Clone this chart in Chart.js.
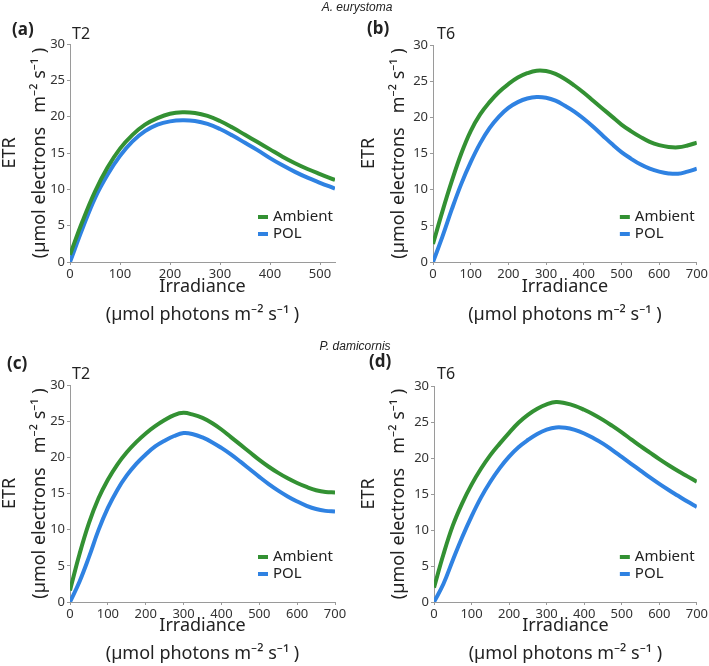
<!DOCTYPE html>
<html>
<head>
<meta charset="utf-8">
<script src="https://cdn.jsdelivr.net/npm/chart.js@4/dist/chart.umd.min.js"></script>
<style>
  body { margin: 0; background: #fff; font-family: "Noto Sans", sans-serif; color: #222; }
  #wrap { position: relative; width: 709px; height: 666px; overflow: hidden; }
  canvas { position: absolute; }
  .lbl { position: absolute; line-height: 20px; height: 20px; white-space: nowrap; }
  .tag { font-weight: bold; font-size: 17px; }
  .time { font-size: 16px; }
  .species { font-family: "Liberation Sans", sans-serif; font-style: italic; font-size: 12px; transform: translateX(-50%); }
</style>
</head>
<body>
<div id="wrap">
  <canvas id="chartA" width="354" height="333" style="left:0;top:0"></canvas>
  <canvas id="chartB" width="355" height="333" style="left:354px;top:0"></canvas>
  <canvas id="chartC" width="354" height="333" style="left:0;top:333px"></canvas>
  <canvas id="chartD" width="355" height="333" style="left:354px;top:333px"></canvas>

  <div class="lbl species" style="left:357px;top:-3px">A. eurystoma</div>
  <div class="lbl species" style="left:355px;top:336px">P. damicornis</div>
  <div class="lbl tag" style="left:12px;top:19px">(a)</div>
  <div class="lbl time" style="left:72px;top:23px">T2</div>
  <div class="lbl tag" style="left:367px;top:18px">(b)</div>
  <div class="lbl time" style="left:437px;top:23px">T6</div>
  <div class="lbl tag" style="left:7px;top:353px">(c)</div>
  <div class="lbl time" style="left:72px;top:363px">T2</div>
  <div class="lbl tag" style="left:369px;top:351px">(d)</div>
  <div class="lbl time" style="left:437px;top:363px">T6</div>
</div>
<script>
// irradiance steps shared by the 0-700 panels
const irr700 = [0, 25, 50, 75, 100, 125, 150, 175, 200, 225, 250, 275, 300, 325, 350, 375, 400,
                425, 450, 475, 500, 525, 550, 575, 600, 625, 650, 675, 700];

// Panel (a) A. eurystoma, T2
const irrA = [0, 25, 50, 75, 100, 125, 150, 175, 200, 225, 250, 275, 300, 325, 350, 375, 400, 425, 450, 475, 500, 530];
const ambA = [1.0, 5.6, 9.7, 13.0, 15.6, 17.5, 18.9, 19.8, 20.4, 20.6, 20.5, 20.1, 19.4, 18.5, 17.5, 16.5, 15.5, 14.5, 13.6, 12.8, 12.1, 11.3];
const polA = [0, 4.6, 8.8, 12.0, 14.6, 16.6, 18.0, 18.9, 19.35, 19.5, 19.4, 19.0, 18.3, 17.4, 16.4, 15.4, 14.3, 13.3, 12.4, 11.6, 10.9, 10.1];

// Panel (b) A. eurystoma, T6
const ambB = [2.5, 7.0, 11.2, 15.0, 18.1, 20.4, 22.1, 23.5, 24.6, 25.5, 26.1, 26.45, 26.4, 26.0, 25.3, 24.4, 23.4,
              22.3, 21.2, 20.1, 19.0, 18.1, 17.3, 16.6, 16.15, 15.9, 15.85, 16.1, 16.5];
const polB = [0, 3.5, 7.3, 10.8, 13.8, 16.4, 18.5, 20.1, 21.3, 22.1, 22.6, 22.8, 22.7, 22.3, 21.6, 20.8, 19.8,
              18.7, 17.5, 16.3, 15.2, 14.3, 13.5, 12.9, 12.5, 12.25, 12.2, 12.5, 12.9];

// Panel (c) P. damicornis, T2
const ambC = [1.6, 6.6, 10.9, 14.3, 16.9, 19.0, 20.7, 22.1, 23.3, 24.3, 25.15, 25.85, 26.15, 25.9, 25.45, 24.75, 23.85,
              22.8, 21.75, 20.7, 19.65, 18.7, 17.85, 17.1, 16.45, 15.9, 15.45, 15.2, 15.15];
const polC = [0, 2.8, 6.2, 9.9, 13.0, 15.5, 17.5, 19.1, 20.4, 21.5, 22.3, 22.95, 23.35, 23.2, 22.75, 22.1, 21.3,
              20.4, 19.4, 18.35, 17.3, 16.3, 15.4, 14.6, 13.9, 13.3, 12.85, 12.6, 12.5];

// Panel (d) P. damicornis, T6
const ambD = [2.0, 6.6, 10.6, 13.7, 16.3, 18.5, 20.4, 22.0, 23.5, 24.9, 26.0, 26.85, 27.45, 27.78, 27.6, 27.25, 26.7,
              26.05, 25.3, 24.45, 23.55, 22.6, 21.65, 20.75, 19.85, 19.0, 18.2, 17.45, 16.7];
const polD = [0, 2.5, 5.8, 9.0, 11.9, 14.5, 16.7, 18.6, 20.2, 21.5, 22.5, 23.35, 23.95, 24.25, 24.2, 23.9, 23.4,
              22.75, 22.0, 21.1, 20.15, 19.2, 18.25, 17.3, 16.4, 15.55, 14.75, 13.95, 13.2];

const seriesLabels = ['Ambient', 'POL'];
const seriesColors = ['#339133', '#2f82e2'];
const yTitle = ['ETR', '(\u00b5mol electrons   m\u207b\u00b2 s\u207b\u00b9 )'];
const xTitle = ['Irradiance', '(\u00b5mol photons m\u207b\u00b2 s\u207b\u00b9 )'];

Chart.defaults.font.family = "'Noto Sans', sans-serif";

// legend drawn inside the plot, lower right
const insideLegend = {
  id: 'insideLegend',
  afterDatasetsDraw(chart) {
    const { ctx, chartArea } = chart;
    ctx.save();
    ctx.font = "15px 'Noto Sans'";
    ctx.textBaseline = 'middle';
    chart.data.datasets.forEach((ds, i) => {
      const x = chartArea.right - 77;
      const y = chartArea.bottom - 45 + i * 17;
      ctx.strokeStyle = ds.borderColor;
      ctx.lineWidth = 4;
      ctx.beginPath();
      ctx.moveTo(x, y);
      ctx.lineTo(x + 10, y);
      ctx.stroke();
      ctx.fillStyle = '#222';
      ctx.fillText(ds.label, x + 15, y);
    });
    ctx.restore();
  }
};

function toPoints(xs, ys) {
  return xs.map((x, i) => ({ x: x, y: ys[i] }));
}

function makePanel(id, irr, amb, pol, p) {
  return new Chart(document.getElementById(id), {
    type: 'line',
    data: {
      datasets: [amb, pol].map((vals, i) => ({
        label: seriesLabels[i],
        data: toPoints(irr, vals),
        borderColor: seriesColors[i],
        borderWidth: 4,
        pointRadius: 0,
        tension: 0.4,
        fill: false
      }))
    },
    options: {
      responsive: false,
      animation: false,
      layout: { padding: { left: 0, top: p.top, right: p.right, bottom: 0 } },
      plugins: { legend: { display: false }, tooltip: { enabled: false } },
      scales: {
        x: {
          type: 'linear',
          min: 0,
          max: p.xMax,
          afterFit: (s) => { s.height = p.xHeight; },
          border: { color: '#9a9a9a', width: 1 },
          grid: { drawOnChartArea: false, tickLength: 3, color: '#9a9a9a' },
          ticks: { stepSize: 100, includeBounds: false, padding: 1, color: '#333', font: { size: 13 } },
          title: {
            display: true, text: xTitle, color: '#222',
            font: { size: 18, lineHeight: '28px' },
            padding: { top: 0, bottom: p.xPad }
          }
        },
        y: {
          min: 0,
          max: 30,
          afterFit: (s) => { s.width = p.yWidth; },
          border: { color: '#9a9a9a', width: 1 },
          grid: { drawOnChartArea: false, tickLength: 3, color: '#9a9a9a' },
          ticks: { stepSize: 5, padding: 2, color: '#333', font: { size: 13 } },
          title: {
            display: true, text: yTitle, color: '#222',
            font: { size: 18, lineHeight: '30px' },
            padding: { top: p.yPad, bottom: 0 }
          }
        }
      }
    },
    plugins: [insideLegend]
  });
}

makePanel('chartA', irrA, ambA, polA, { xMax: 530, top: 44, right: 19, xHeight: 71, yWidth: 70, xPad: 4, yPad: -5 });
makePanel('chartB', irr700, ambB, polB, { xMax: 700, top: 45, right: 10, xHeight: 71, yWidth: 79, xPad: 4, yPad: 0 });
makePanel('chartC', irr700, ambC, polC, { xMax: 700, top: 52, right: 19, xHeight: 64, yWidth: 70, xPad: -2, yPad: -5 });
makePanel('chartD', irr700, ambD, polD, { xMax: 700, top: 53, right: 10, xHeight: 64, yWidth: 80, xPad: -2, yPad: 0 });
</script>
</body>
</html>
